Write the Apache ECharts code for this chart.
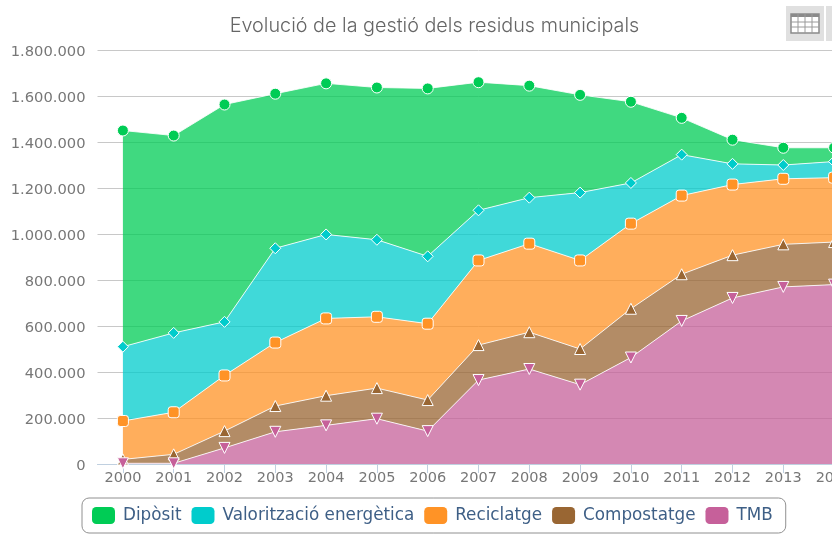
<!DOCTYPE html>
<html><head><meta charset="utf-8">
<style>html,body{margin:0;padding:0;background:#fff;overflow:hidden;width:832px;height:534px}#c{width:900px;height:534px}</style>
<script src="https://cdn.jsdelivr.net/npm/echarts@6/dist/echarts.min.js"></script>
</head><body><div id="c"></div>
<script>
const years=['2000','2001','2002','2003','2004','2005','2006','2007','2008','2009','2010','2011','2012','2013','2014'];
const diposit=[940000,858000,945000,672000,657000,662000,730000,557000,487000,425000,353000,160000,105000,75000,60000];
const valoritzacio=[323000,345000,233000,410000,365000,335000,293000,218000,200000,295000,177000,178000,90000,60000,70000];
const reciclatge=[167000,183000,242000,276000,336000,310000,332000,368000,385000,385000,370000,342000,307000,285000,280000];
const compostatge=[17000,39000,73000,112000,129000,133000,135000,152000,160000,155000,212000,203000,186000,185000,185000];
const tmb=[3000,3000,70000,140000,168000,197000,143000,365000,413000,345000,463000,622000,722000,770000,780000];
const FONT='DejaVu Sans';
function fmt(v){return String(v).replace(/\B(?=(\d{3})+$)/g,'.');}
function s(name,data,color,symbol,size,z,rot){
  return {name,type:'line',stack:'t',data,symbol,symbolSize:size,symbolRotate:rot||0,showAllSymbol:true,
    lineStyle:{color:'#fff',width:1,opacity:0.85},
    areaStyle:{color,opacity:0.75},
    itemStyle:{color,borderColor:'#fff',borderWidth:1,opacity:1},
    emphasis:{disabled:true},z};
}
const chart=echarts.init(document.getElementById('c'),null,{renderer:'canvas'});
const btn=[];
btn.push({type:'rect',shape:{x:786,y:6,width:38,height:35},style:{fill:'#e0e0e0'},silent:true});
btn.push({type:'rect',shape:{x:826,y:6,width:38,height:35},style:{fill:'#e0e0e0'},silent:true});
btn.push({type:'rect',shape:{x:791,y:14,width:28,height:19},style:{fill:'#fff',stroke:'#8a8a8a',lineWidth:1.5},silent:true});
btn.push({type:'rect',shape:{x:791,y:14,width:28,height:3},style:{fill:'#8a8a8a'},silent:true});
[798,805,812].forEach(x=>btn.push({type:'line',shape:{x1:x,y1:14,x2:x,y2:33},style:{stroke:'#9a9a9a',lineWidth:1},silent:true}));
[22,27].forEach(y=>btn.push({type:'line',shape:{x1:791,y1:y,x2:819,y2:y},style:{stroke:'#9a9a9a',lineWidth:1},silent:true}));
chart.setOption({
  animation:false,
  textStyle:{fontFamily:FONT},
  title:{text:'Evolució de la gestió dels residus municipals',left:429.5,top:11,textAlign:'center',
    textStyle:{fontFamily:'Inter',fontSize:19.8,fontWeight:300,color:'#666'}},
  legend:{data:['Dipòsit','Valorització energètica','Reciclatge','Compostatge','TMB'],
    left:82,top:498,itemWidth:23,itemHeight:17,itemGap:10,padding:[9,13,9,10],
    borderColor:'#909090',borderWidth:1,borderRadius:7,backgroundColor:'#fff',
    itemStyle:{borderWidth:0,opacity:1},icon:'roundRect',
    textStyle:{fontFamily:FONT,fontSize:16.8,color:'#3e5f86',padding:[0,0,0,3]}},
  grid:{left:97.5,top:50,width:762,bottom:70,containLabel:false},
  xAxis:{type:'category',data:years,boundaryGap:true,
    axisLine:{lineStyle:{color:'#c0d0e0',width:1}},
    axisTick:{show:true,alignWithLabel:true,length:9,lineStyle:{color:'#c0d0e0'}},
    axisLabel:{color:'#777',fontSize:14.5,fontFamily:FONT,margin:7,interval:0}},
  yAxis:{type:'value',min:0,max:1800000,interval:200000,
    axisLine:{show:false},axisTick:{show:false},
    splitLine:{lineStyle:{color:'#c8c8c8',width:1}},
    axisLabel:{color:'#777',fontSize:14.7,fontFamily:FONT,margin:12,verticalAlign:'top',lineHeight:4,formatter:fmt}},
  series:[
    s('TMB',tmb,'#c6609a','triangle',11,6,180),
    s('Compostatge',compostatge,'#996633','triangle',11,5),
    s('Reciclatge',reciclatge,'#ff9326','roundRect',11,4),
    s('Valorització energètica',valoritzacio,'#00cccc','diamond',11,3),
    s('Dipòsit',diposit,'#00cc55','circle',11,2)
  ],
  graphic:btn
});
</script></body></html>
